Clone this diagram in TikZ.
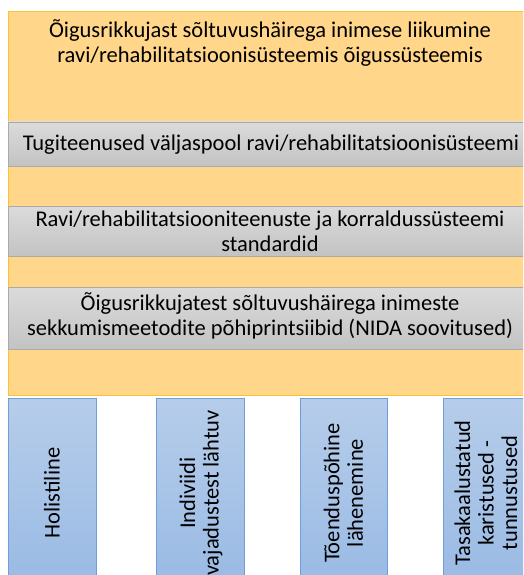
\documentclass[tikz,border=0pt]{standalone}
\usepackage{fontspec}
\setmainfont{Carlito}
\definecolor{orfill}{RGB}{255,214,138}
\definecolor{ordraw}{RGB}{250,195,50}
\definecolor{grtop}{RGB}{219,219,219}
\definecolor{grbot}{RGB}{195,195,195}
\definecolor{grdraw}{RGB}{170,170,170}
\definecolor{bltop}{RGB}{182,205,234}
\definecolor{blbot}{RGB}{153,186,228}
\definecolor{bldraw}{RGB}{112,158,214}

\begin{document}
\begin{tikzpicture}[x = 1pt, y = -1pt, thick,
  band/.style = {draw = grdraw, top color = grtop, bottom color = grbot},
  pillar/.style = {draw = bldraw, top color = bltop, bottom color = blbot},
  txt/.style = {font = \fontsize{22.5}{25}\selectfont, align = center, inner sep = 0pt},
  vtxt/.style = {txt, rotate = 90, font = \fontsize{22.5}{23.5}\selectfont}]
  \useasboundingbox (0, 0) rectangle (523, 575);
  \clip (0, 0) rectangle (523, 575);
  \draw[draw = ordraw, fill = orfill] (8, 11) rectangle (533, 395);
  \node[txt] (frame) at (270, 43) {Õigusrikkujast sõltuvushäirega inimese liikumine\\ravi/rehabilitatsioonisüsteemis õigussüsteemis};
  \begin{scope}
    \draw[band] (8, 122) rectangle (533, 166);
    \draw[band] (8, 206) rectangle (533, 256);
    \draw[band] (8, 287) rectangle (533, 349);
    \node[txt] (support) at (271, 145) {Tugiteenused väljaspool ravi/rehabilitatsioonisüsteemi};
    \node[txt] (standards) at (270, 231) {Ravi/rehabilitatsiooniteenuste ja korraldussüsteemi\\standardid};
    \node[txt] (principles) at (270, 316) {Õigusrikkujatest sõltuvushäirega inimeste\\sekkumismeetodite põhiprintsiibid (NIDA soovitused)};
  \end{scope}
  \begin{scope}
    \draw[pillar] (8, 398) rectangle (96, 588);
    \draw[pillar] (156, 398) rectangle (244, 588);
    \draw[pillar] (300, 398) rectangle (387, 588);
    \draw[pillar] (443, 398) rectangle (531, 588);
    \node[vtxt] (holistic) at (52, 493) {Holistiline};
    \node[vtxt] (needs) at (201, 493) {Indiviidi\\vajadustest lähtuv};
    \node[vtxt] (evidence) at (343.5, 493) {Tõenduspõhine\\lähenemine};
    \node[vtxt] (balance) at (486, 493) {Tasakaalustatud\\karistused -\\tunnustused};
  \end{scope}
\end{tikzpicture}
\end{document}
